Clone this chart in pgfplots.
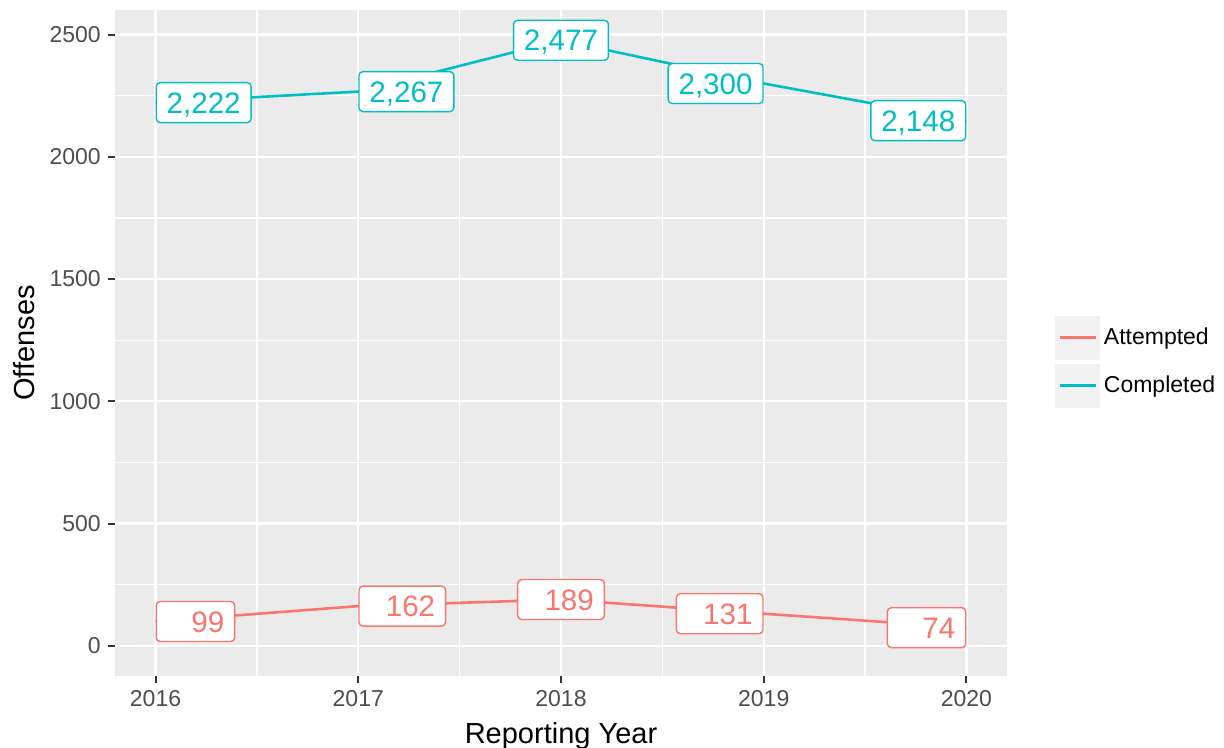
\documentclass[border=0pt]{standalone}
\usepackage{fontspec}
\setmainfont{Liberation Sans}
\usepackage{pgfplots}
\usepackage{pgfplotstable}
\pgfplotsset{compat=1.18}
\definecolor{ggbg}{HTML}{EBEBEB}
\definecolor{ggred}{HTML}{F8766D}
\definecolor{ggblue}{HTML}{00BFC4}
\definecolor{ggkey}{HTML}{F2F2F2}
\definecolor{gray30}{HTML}{4D4D4D}
\definecolor{gray20}{HTML}{333333}

\pgfplotstableread{
year val
2016 99
2017 162
2018 189
2019 131
2020 74
}\attempted

\pgfplotstableread{
year val
2016 2222
2017 2267
2018 2477
2019 2300
2020 2148
}\completed

\tikzset{
  gglabelnode/.style={
      fill=white, draw=#1, text=#1, line width=0.7pt,
      rounded corners=2pt, inner xsep=5.2pt, inner ysep=0pt,
      minimum height=20pt, text height=10.6pt, text depth=0pt,
      font=\fontsize{14.8}{17}\selectfont},
}
\pgfplotsset{
  labs/.style 2 args={draw=none, mark=none, forget plot,
    point meta=explicit symbolic, nodes near coords,
    every node near coord/.append style={gglabelnode=#1, anchor=#2}},
}

\begin{document}
\begin{tikzpicture}
\path[use as bounding box] (-57.5pt,-36pt) rectangle (554.5pt,338pt);
\begin{axis}[
  at={(0,0)}, anchor=south west,
  scale only axis, width=446pt, height=333pt,
  xmin=2015.8, xmax=2020.2, ymin=-123.85, ymax=2600.85,
  clip=false,
  axis background/.style={fill=ggbg},
  axis line style={draw=none},
  grid=both,
  major grid style={white, line width=1.2pt},
  minor grid style={white, line width=0.6pt},
  xtick={2016,2017,2018,2019,2020},
  minor xtick={2016.5,2017.5,2018.5,2019.5},
  ytick={0,500,1000,1500,2000,2500},
  minor ytick={250,750,1250,1750,2250},
  minor tick length=0pt, major tick length=3.6pt,
  tick align=outside, xtick pos=left, ytick pos=left,
  tick style={gray20, line width=1pt},
  ticklabel style={font=\fontsize{11.5}{13}\selectfont, text=gray30},
  /pgf/number format/assume math mode=true,
  /pgf/number format/set thousands separator={},
  xlabel={Reporting Year}, ylabel={Offenses},
  every axis x label/.style={at={(axis description cs:0.5,-0.1006)}, anchor=base,
    font=\fontsize{14.5}{17}\selectfont},
  every axis y label/.style={at={(axis description cs:-0.0897,0.5)}, rotate=90, anchor=base,
    font=\fontsize{14.5}{17}\selectfont},
  legend style={at={(axis description cs:1.0535,0.472)}, anchor=west,
    draw=none, fill=none, font=\fontsize{11.5}{13}\selectfont,
    row sep=2pt, inner sep=0pt},
  legend cell align=left,
  legend image code/.code={
    \fill[ggkey] (0pt,-10.75pt) rectangle (22pt,10.75pt);
    \draw[#1, line width=1.3pt] (2pt,0pt) -- (20pt,0pt);},
]
\addlegendimage{ggred}
\addlegendentry{Attempted}
\addlegendimage{ggblue}
\addlegendentry{Completed}
\addplot[ggred, line width=1.3pt, mark=none, forget plot]
  table[x=year, y=val] {\attempted};
\addplot[ggblue, line width=1.3pt, mark=none, forget plot]
  table[x=year, y=val] {\completed};
% labels, Attempted
\addplot[labs={ggred}{west}] coordinates {(2016,99) [\ \ \ 99] (2017,162) [\ \ 162]};
\addplot[labs={ggred}{center}] coordinates {(2018,189) [\ \ 189]};
\addplot[labs={ggred}{east}] coordinates {(2019,131) [\ \ 131] (2020,74) [\ \ \ 74]};
% labels, Completed
\addplot[labs={ggblue}{west}] coordinates {(2016,2222) [2,222] (2017,2267) [2,267]};
\addplot[labs={ggblue}{center}] coordinates {(2018,2477) [2,477]};
\addplot[labs={ggblue}{east}] coordinates {(2019,2300) [2,300] (2020,2148) [2,148]};
\end{axis}
\end{tikzpicture}
\end{document}
